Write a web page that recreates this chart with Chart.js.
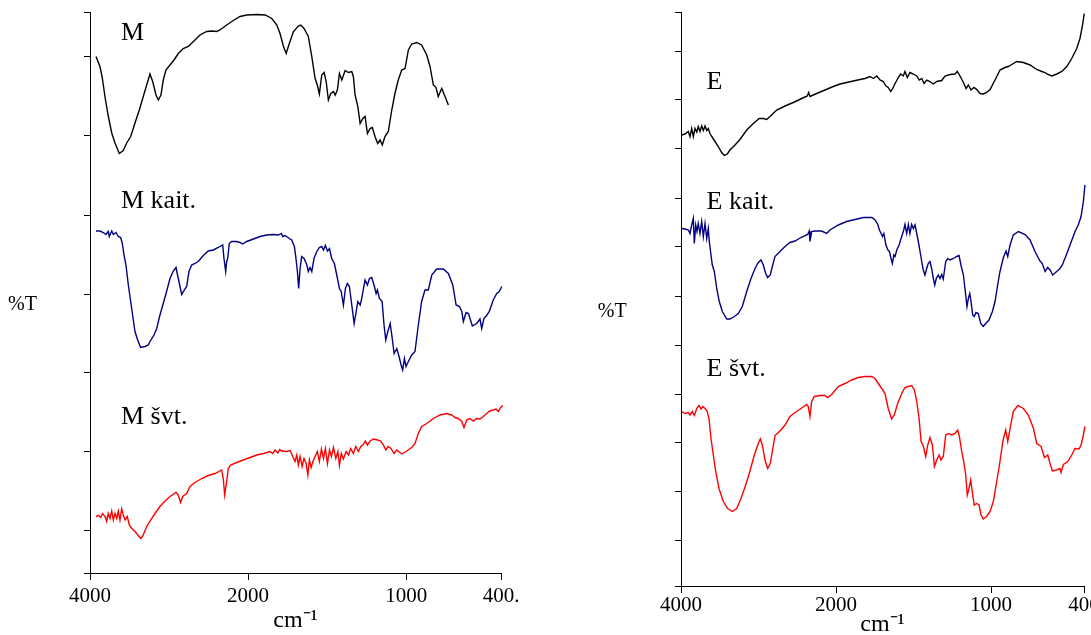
<!DOCTYPE html>
<html><head><meta charset="utf-8">
<script src="https://cdn.jsdelivr.net/npm/chart.js@4.4.1/dist/chart.umd.min.js"></script>
<style>
html,body{margin:0;padding:0;background:#fff;width:1091px;height:635px;overflow:hidden;}
#cl{position:absolute;left:0;top:0;}
#cr{position:absolute;left:560px;top:0;}
</style></head><body>
<canvas id="cl" width="540" height="635"></canvas>
<canvas id="cr" width="531" height="635"></canvas>
<script>
// ---- axis ticks / labels ----
const X_TICKS = [4000, 2000, 1000, 400];
const X_LABELS_L = ['4000', '2000', '1000', '400.'];
const X_LABELS_R = ['4000', '2000', '1000', '400'];
const Y_TICKS_L = [0, 8.6, 24.4, 40.2, 55.8, 71.6, 87.4, 103.2, 112.2];
const Y_TICKS_R = [0, 9.2, 19, 28.8, 38.4, 48.2, 58, 67.8, 77.6, 87.4, 97.2, 107, 114.8];
const SERIES_L = ['M', 'M kait.', 'M švt.'];
const SERIES_R = ['E', 'E kait.', 'E švt.'];

// ---- M ----
const M_WN = [3924,3874,3844,3810,3768,3725,3684,3629,3579,3536,
3485,3431,3376,3326,3283,3241,3207,3165,3136,3102,
3073,3039,2988,2937,2883,2820,2756,2672,2608,2524,
2460,2397,2356,2271,2187,2102,2017,1945,1892,1850,
1818,1798,1776,1759,1739,1713,1682,1667,1646,1619,
1597,1576,1562,1549,1534,1519,1506,1492,1477,1460,
1449,1435,1422,1407,1386,1365,1344,1334,1323,1306,
1291,1274,1260,1245,1228,1214,1197,1180,1165,1151,
1134,1113,1091,1071,1050,1028,1007,986,965,933,
902,870,849,828,811,797,775,754,733];
const M_T = [103.3,101.3,99.0,95.2,91.3,88.0,86.0,83.9,84.5,86.0,
87.3,90.0,92.6,95.3,97.6,99.8,98.3,95.6,94.6,95.6,
98.6,100.6,101.6,102.6,103.9,104.9,105.3,106.6,107.6,108.3,
108.4,108.3,108.6,109.6,110.5,111.3,111.6,111.7,111.6,110.9,
109.6,107.9,105.3,103.9,105.9,108.3,109.4,109.6,108.9,107.3,
103.3,98.9,97.6,95.8,99.6,100.1,98.3,94.6,95.9,96.3,
95.6,96.6,99.9,98.6,100.5,100.1,100.3,99.3,95.6,93.3,
89.9,90.9,91.3,87.9,88.9,89.1,87.3,85.9,86.6,85.6,
87.3,88.3,92.6,95.9,98.6,100.6,100.9,104.6,105.8,106.1,
105.6,103.6,101.3,97.6,97.1,95.3,96.9,95.3,93.6];

// ---- M kait. ----
const MK_WN = [3924,3874,3832,3798,3769,3756,3725,3705,3671,3642,
3612,3591,3570,3545,3515,3485,3461,3431,3397,3359,
3304,3262,3241,3190,3156,3115,3073,3031,2988,2946,
2912,2883,2840,2807,2777,2748,2714,2672,2630,2567,
2504,2440,2377,2321,2305,2283,2271,2258,2238,2208,
2145,2102,2068,2017,1966,1924,1882,1840,1808,1790,
1780,1766,1739,1724,1707,1697,1688,1680,1671,1661,
1646,1629,1619,1608,1597,1583,1565,1549,1534,1523,
1511,1498,1485,1471,1454,1439,1422,1411,1397,1384,
1372,1359,1344,1329,1318,1306,1291,1281,1270,1260,
1245,1232,1218,1203,1190,1182,1169,1152,1140,1129,
1116,1101,1091,1076,1059,1045,1032,1022,1011,1001,
986,965,944,923,902,881,860,838,807,765,
733,705,684,663,648,638,621,606,596,581,
554,533,522,508,491,474,449,427,411,395,
381,368];
const MK_T = [68.4,68.4,68.1,67.7,68.3,67.3,68.4,67.7,68.1,67.3,
67.1,65.9,63.6,61.6,57.6,54.3,51.6,48.3,46.6,45.1,
45.3,45.6,46.3,47.6,48.9,51.6,53.9,56.3,58.9,60.4,
61.1,58.9,55.7,56.6,57.3,60.3,61.6,61.9,62.3,63.5,
64.4,64.6,65.1,65.6,62.9,60.3,62.3,62.9,65.9,66.3,
66.3,66.1,65.8,66.3,66.8,67.3,67.6,67.7,67.6,67.9,
67.3,67.5,66.9,66.6,65.3,62.9,60.3,56.9,60.9,63.3,
62.9,61.7,60.3,61.1,60.3,62.9,64.3,65.1,65.3,64.6,
65.5,64.4,64.9,62.9,61.9,59.6,56.9,56.3,53.6,56.9,
57.9,57.3,53.6,49.9,51.9,54.3,53.6,54.9,56.9,58.6,
57.6,58.9,59.1,57.6,55.9,56.6,54.9,54.3,49.6,46.6,
48.3,49.9,47.6,43.9,44.9,43.3,41.6,40.6,42.9,41.3,
42.3,43.6,44.3,49.6,54.3,56.6,56.6,59.6,60.8,60.8,
59.9,57.6,53.6,53.3,52.3,50.3,52.1,51.9,50.9,49.4,
49.9,50.8,48.9,50.9,51.5,52.3,54.6,55.9,56.3,57.3,
60.3,61.9];

// ---- M švt. ----
const MS_WN = [3924,3895,3865,3841,3810,3789,3769,3747,3725,3705,
3684,3662,3642,3621,3599,3579,3557,3528,3503,3472,
3431,3389,3355,3326,3283,3241,3178,3115,3051,2988,
2912,2883,2853,2827,2777,2735,2672,2587,2504,2419,
2334,2314,2296,2271,2251,2220,2145,2061,1987,1945,
1903,1861,1845,1829,1812,1800,1787,1756,1734,1717,
1703,1692,1682,1671,1658,1646,1633,1622,1612,1601,
1590,1576,1562,1549,1536,1523,1511,1498,1485,1473,
1460,1445,1432,1422,1410,1397,1380,1365,1351,1334,
1319,1302,1287,1271,1258,1245,1228,1207,1182,1161,
1144,1129,1113,1096,1077,1059,1028,997,965,944,
923,902,870,828,786,743,712,691,670,648,
634,617,596,575,554,533,512,491,470,449,
432,417,402,389,381,375,364];
const MS_T = [11.3,11.5,11.1,11.9,11.3,10.3,11.9,10.9,12.4,10.6,
11.9,10.9,12.4,10.6,12.8,11.6,10.6,11.3,9.6,8.9,
8.3,7.5,6.9,7.6,9.3,10.4,11.9,13.3,14.4,15.3,
16.1,15.6,14.1,15.3,15.9,17.3,18.1,18.9,19.5,19.9,
20.6,18.9,15.6,18.3,20.9,21.6,22.1,22.6,23.1,23.6,
23.9,24.3,23.9,24.6,24.0,24.7,24.4,24.3,24.5,23.3,
22.3,23.6,21.6,23.3,21.3,22.9,21.9,19.6,22.6,21.1,
22.3,23.3,24.3,22.3,24.8,22.9,24.9,21.9,24.6,23.3,
25.1,22.9,24.3,21.5,23.9,22.8,24.3,23.6,24.9,23.9,
25.3,24.3,25.3,25.7,26.4,25.6,26.4,26.8,26.6,26.4,
25.6,24.6,25.3,24.9,23.9,24.6,23.8,24.4,25.1,25.9,
27.9,29.3,29.9,30.9,31.6,31.9,31.6,31.1,30.9,30.3,
29.1,30.6,30.9,30.4,30.9,30.8,31.3,31.9,32.4,32.6,
32.8,32.3,33.1,33.5,32.3,34.9,34.4];

// ---- E ----
const E_WN = [3991,3948,3906,3884,3862,3841,3819,3797,3777,3755,
3733,3712,3690,3668,3648,3626,3604,3561,3519,3475,
3441,3403,3368,3303,3239,3152,3067,2990,2938,2894,
2852,2765,2658,2551,2443,2371,2353,2336,2249,2142,
2035,1974,1931,1888,1845,1813,1781,1759,1737,1716,
1695,1677,1663,1647,1634,1619,1598,1583,1566,1555,
1540,1523,1501,1479,1463,1447,1432,1415,1394,1372,
1350,1318,1297,1264,1232,1217,1200,1178,1161,1146,
1129,1110,1092,1071,1050,1028,1006,974,942,910,
888,866,834,791,748,705,672,651,640,608,
575,543,511,479,447,426,411,398];
const E_T = [90.2,90.4,90.9,89.9,91.5,89.9,91.5,90.8,91.9,90.9,
92.0,91.1,92.0,91.1,91.5,90.5,89.9,88.9,87.9,86.7,
86.1,86.4,87.2,88.2,89.3,91.2,92.5,93.5,93.5,93.3,
93.9,95.2,96.0,96.7,97.5,98.0,98.7,97.9,98.5,99.2,
99.9,100.4,100.7,101.0,101.3,101.5,101.9,101.5,102.0,101.2,
100.9,100.0,99.7,98.9,99.5,100.5,101.7,102.4,102.0,102.9,
101.7,102.7,102.4,102.0,101.2,101.5,100.5,101.2,100.9,100.4,
100.9,101.1,102.0,102.3,102.4,102.9,102.0,100.7,99.5,100.2,
99.2,99.7,99.3,98.5,98.4,98.7,99.3,101.2,103.2,103.7,
103.9,104.3,104.9,104.7,104.2,103.3,102.9,102.7,102.4,102.0,
102.4,102.9,103.9,105.5,107.5,109.5,111.9,114.5];

// ---- E kait. ----
const EK_WN = [3991,3948,3906,3884,3862,3841,3828,3810,3794,3777,
3755,3733,3712,3690,3668,3648,3635,3613,3596,3570,
3539,3506,3467,3410,3368,3312,3261,3209,3152,3097,
3045,3003,2968,2938,2907,2882,2848,2822,2787,2723,
2658,2594,2529,2452,2366,2345,2336,2314,2271,2185,
2120,2078,1985,1931,1877,1823,1769,1748,1730,1720,
1709,1700,1691,1678,1665,1655,1645,1636,1627,1619,
1608,1593,1576,1563,1555,1544,1533,1523,1512,1501,
1490,1477,1465,1454,1443,1437,1426,1415,1405,1394,
1383,1372,1363,1353,1340,1329,1318,1308,1292,1279,
1264,1243,1221,1206,1194,1178,1168,1155,1146,1137,
1129,1118,1108,1097,1082,1066,1050,1034,1013,991,
974,957,942,920,903,892,877,856,823,780,
748,716,684,669,651,634,619,602,576,555,
540,518,490,458,437,419,404,394];
const EK_T = [71.5,71.4,71.2,70.5,72.2,73.5,68.5,72.2,70.9,72.5,
70.5,72.9,69.9,72.5,69.5,71.5,68.9,66.2,64.2,62.9,
59.5,56.9,54.9,53.4,53.4,53.9,54.5,55.9,58.9,61.5,
63.5,64.7,65.2,64.2,62.5,61.7,62.2,63.9,65.9,66.9,
67.9,68.7,69.0,69.7,70.3,71.0,68.9,70.9,71.0,71.0,
70.5,71.2,72.2,72.9,73.3,73.7,73.7,73.2,72.3,71.2,
70.5,69.9,70.5,68.2,67.2,66.9,65.5,64.5,66.2,65.9,
67.2,68.2,69.9,71.2,72.3,70.5,72.3,70.5,72.3,71.5,
72.2,70.2,68.2,66.2,64.2,63.2,62.2,63.5,64.5,64.9,
63.5,61.5,60.2,61.5,62.2,61.5,62.3,61.4,64.9,65.5,
65.2,65.5,65.9,66.1,64.2,62.2,59.5,55.9,57.5,58.5,
56.9,54.2,53.9,54.7,54.5,52.5,51.9,52.5,53.2,54.9,
56.9,60.2,62.9,65.7,67.0,65.9,68.2,70.2,70.9,70.3,
69.2,66.9,65.0,64.5,62.9,63.7,63.2,62.2,62.9,63.5,
64.2,65.9,68.2,70.9,72.2,73.9,76.9,80.2];

// ---- E švt. ----
const ES_WN = [3991,3948,3906,3884,3854,3828,3797,3768,3742,3716,
3690,3661,3639,3613,3583,3552,3510,3454,3398,3338,
3281,3226,3165,3110,3054,3003,2977,2951,2916,2882,
2848,2822,2787,2723,2658,2594,2529,2452,2378,2358,
2336,2314,2280,2207,2142,2108,2056,1985,1942,1899,
1856,1813,1769,1748,1727,1705,1684,1663,1641,1624,
1602,1576,1555,1533,1512,1494,1479,1464,1451,1436,
1421,1408,1394,1378,1365,1350,1335,1323,1308,1292,
1275,1253,1232,1215,1204,1189,1176,1163,1153,1142,
1131,1121,1108,1092,1077,1064,1050,1028,1006,985,
963,942,924,905,892,877,856,827,791,759,
726,705,677,655,634,619,604,576,555,548,
533,505,479,458,432,419,404,394];
const ES_T = [34.9,34.5,34.7,34.2,34.9,34.1,35.5,36.1,35.4,35.9,
35.5,34.9,33.5,29.5,26.2,22.9,19.5,16.9,15.5,14.9,
15.5,17.5,20.2,23.0,26.2,28.5,29.4,28.2,25.2,23.5,
24.5,26.9,30.1,31.0,32.2,33.9,34.7,35.5,36.3,35.9,
33.9,36.9,37.9,38.1,38.1,37.7,38.3,39.9,40.5,41.2,
41.7,41.9,41.9,41.5,40.5,39.5,38.5,35.5,33.4,34.2,
36.5,38.5,39.7,39.9,40.1,39.2,36.9,33.5,28.9,27.9,
25.9,28.2,29.7,28.2,23.9,25.2,26.2,25.2,25.9,30.2,
30.5,30.2,30.5,31.2,29.9,26.9,24.9,22.2,18.2,19.5,
21.2,18.9,16.2,16.5,16.2,14.2,13.4,13.9,14.9,16.9,
20.9,24.9,28.9,31.2,28.9,31.5,34.9,36.1,35.5,34.2,
31.5,28.5,27.9,25.7,26.2,24.5,23.0,23.2,23.5,22.7,
24.3,24.9,26.2,27.5,27.4,28.2,30.2,31.9];

// ---- helpers ----
// IR axis: 4000-2000 cm-1 drawn at half the scale of 2000-400 cm-1
function pos(w) { return w >= 2000 ? (4000 - w) / 2 : 1000 + (2000 - w); }
function pts(wn, t) {
  const n = Math.min(wn.length, t.length), a = [];
  for (let i = 0; i < n; i++) a.push({ x: pos(wn[i]), y: t[i] });
  return a;
}
const FONT = "'Liberation Serif', 'Times New Roman', serif";
const COLORS = ['#000000', '#000080', '#ff0000'];

const textPlugin = {
  id: 'irText',
  afterDraw(chart, args, opts) {
    const ctx = chart.ctx, xs = chart.scales.x, ys = chart.scales.y;
    ctx.save();
    ctx.fillStyle = '#000';
    ctx.font = '26px ' + FONT;
    ctx.textAlign = 'left';
    ctx.textBaseline = 'alphabetic';
    opts.labels.forEach(l => ctx.fillText(l.text, xs.getPixelForValue(pos(l.wn)), ys.getPixelForValue(l.t)));
    ctx.font = '20px ' + FONT;
    ctx.textAlign = 'center';
    ctx.textBaseline = 'middle';
    ctx.fillText('%T', opts.yTitleX, opts.yTitleY);
    ctx.restore();
  }
};

function makeChart(id, cfg) {
  return new Chart(document.getElementById(id), {
    type: 'line',
    data: {
      datasets: cfg.series.map((s, i) => ({
        label: s.name, data: pts(s.wn, s.t), borderColor: COLORS[i], borderWidth: 1.4,
        pointRadius: 0, tension: 0, fill: false, clip: false
      }))
    },
    options: {
      responsive: false, animation: false, devicePixelRatio: 1,
      layout: { padding: { top: 12, right: cfg.padRight, bottom: 0, left: 0 } },
      plugins: {
        legend: { display: false }, tooltip: { enabled: false },
        irText: { labels: cfg.labels, yTitleX: cfg.yTitleX, yTitleY: cfg.yTitleY }
      },
      scales: {
        x: {
          type: 'linear', min: 0, max: 2600, position: 'bottom',
          afterBuildTicks: s => { s.ticks = X_TICKS.map(w => ({ value: pos(w) })); },
          afterFit: s => { s.height = cfg.xHeight; s.paddingLeft = 0; s.paddingRight = 0; },
          ticks: { autoSkip: false, maxRotation: 0, minRotation: 0, color: '#000',
                   font: { family: FONT, size: 21 }, padding: cfg.xPad,
                   callback: (v, i) => cfg.xLabels[i] },
          grid: { display: true, drawOnChartArea: false, drawTicks: true, tickLength: 7,
                  color: '#000', tickColor: '#000', lineWidth: 1 },
          border: { display: true, color: '#000', width: 1 },
          title: { display: true, text: 'cm⁻¹', color: '#000',
                   font: { family: FONT, size: 24, lineHeight: 0.8 },
                   padding: { top: 0, bottom: cfg.titlePad } }
        },
        y: {
          type: 'linear', min: 0, max: cfg.yTicks[cfg.yTicks.length - 1],
          afterBuildTicks: s => { s.ticks = cfg.yTicks.map(v => ({ value: v })); },
          afterFit: s => { s.width = cfg.yWidth; s.paddingTop = 0; s.paddingBottom = 0; },
          ticks: { display: false },
          grid: { display: true, drawOnChartArea: false, drawTicks: true, tickLength: 6,
                  color: '#000', tickColor: '#000', lineWidth: 1 },
          border: { display: true, color: '#000', width: 1 }
        }
      }
    },
    plugins: [textPlugin]
  });
}

makeChart('cl', {
  series: [
    { name: SERIES_L[0], wn: M_WN, t: M_T },
    { name: SERIES_L[1], wn: MK_WN, t: MK_T },
    { name: SERIES_L[2], wn: MS_WN, t: MS_T }
  ],
  labels: [
    { text: SERIES_L[0], wn: 3608, t: 106.7 },
    { text: SERIES_L[1], wn: 3608, t: 73.1 },
    { text: SERIES_L[2], wn: 3608, t: 29.9 }
  ],
  xLabels: X_LABELS_L, yTicks: Y_TICKS_L,
  padRight: 39, xHeight: 62, yWidth: 90, xPad: 4, titlePad: 4.5,
  yTitleX: 22.5, yTitleY: 305
});

makeChart('cr', {
  series: [
    { name: SERIES_R[0], wn: E_WN, t: E_T },
    { name: SERIES_R[1], wn: EK_WN, t: EK_T },
    { name: SERIES_R[2], wn: ES_WN, t: ES_T }
  ],
  labels: [
    { text: SERIES_R[0], wn: 3671, t: 99.5 },
    { text: SERIES_R[1], wn: 3671, t: 75.5 },
    { text: SERIES_R[2], wn: 3671, t: 42 }
  ],
  xLabels: X_LABELS_R, yTicks: Y_TICKS_R,
  padRight: 7, xHeight: 49, yWidth: 121, xPad: 0, titlePad: 0.5,
  yTitleX: 52.3, yTitleY: 312
});
</script>
</body></html>
